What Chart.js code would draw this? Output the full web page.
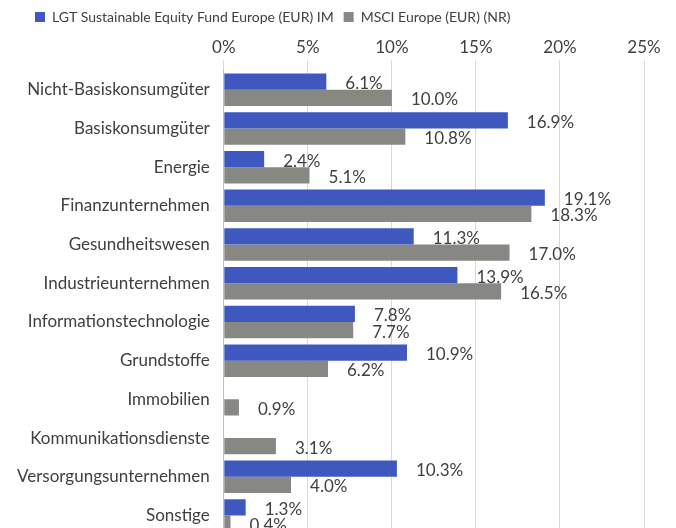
<!DOCTYPE html>
<html>
<head>
<meta charset="utf-8">
<script src="https://cdn.jsdelivr.net/npm/chart.js@4"></script>
<style>
  html, body { margin: 0; padding: 0; background: #fff; overflow: hidden; }
  #wrap { width: 676px; height: 551px; }
</style>
</head>
<body>
<div id="wrap"><canvas id="sectorChart" width="676" height="551"></canvas></div>
<script>
const categories = [
    'Nicht-Basiskonsumgüter', 'Basiskonsumgüter', 'Energie', 'Finanzunternehmen',
    'Gesundheitswesen', 'Industrieunternehmen', 'Informationstechnologie', 'Grundstoffe',
    'Immobilien', 'Kommunikationsdienste', 'Versorgungsunternehmen', 'Sonstige'
];
const fundValues = [6.1, 16.9, 2.4, 19.1, 11.3, 13.9, 7.8, 10.9, null, null, 10.3, 1.3];
const indexValues = [10.0, 10.8, 5.1, 18.3, 17.0, 16.5, 7.7, 6.2, 0.9, 3.1, 4.0, 0.4];
const seriesNames = ['LGT Sustainable Equity Fund Europe (EUR) IM', 'MSCI Europe (EUR) (NR)'];

const fontFamily = 'Lato, "Open Sans", sans-serif';
const textColor = '#404040';

// draws the value labels next to the bar ends
const valueLabels = {
    id: 'valueLabels',
    afterDatasetsDraw(chart) {
        const ctx = chart.ctx;
        ctx.save();
        ctx.font = '17px ' + fontFamily;
        ctx.fillStyle = textColor;
        ctx.textAlign = 'left';
        ctx.textBaseline = 'middle';
        chart.data.datasets.forEach((ds, i) => {
            const meta = chart.getDatasetMeta(i);
            meta.data.forEach((bar, j) => {
                const v = ds.data[j];
                if (v === null || v === undefined) return;
                ctx.fillText(v.toFixed(1) + '%', bar.x + 19, bar.y + 2);
            });
        });
        ctx.restore();
    }
};

// nudge the legend a bit to the right, like the original
const legendShift = {
    id: 'legendShift',
    afterLayout(chart) {
        chart.legend.left += 14;
        chart.legend.right += 14;
    }
};

const ctx = document.getElementById('sectorChart').getContext('2d');
new Chart(ctx, {
    type: 'bar',
    data: {
        labels: categories,
        datasets: [{
            label: seriesNames[0],
            data: fundValues,
            backgroundColor: '#3F58BF',
            categoryPercentage: 0.84,
            barPercentage: 1.0
        }, {
            label: seriesNames[1],
            data: indexValues,
            backgroundColor: '#878783',
            categoryPercentage: 0.84,
            barPercentage: 1.0
        }]
    },
    options: {
        indexAxis: 'y',
        responsive: false,
        animation: false,
        layout: {
            padding: { left: 11, right: 32, top: 0, bottom: 0 }
        },
        plugins: {
            legend: {
                position: 'top',
                align: 'start',
                labels: {
                    boxWidth: 10,
                    boxHeight: 10,
                    padding: 10,
                    color: textColor,
                    font: { family: fontFamily, size: 14 }
                }
            },
            tooltip: { enabled: false }
        },
        scales: {
            x: {
                position: 'top',
                min: 0,
                max: 25,
                ticks: {
                    stepSize: 5,
                    color: textColor,
                    font: { family: fontFamily, size: 17 },
                    callback: v => v + '%'
                },
                grid: { color: '#d9d9d9', tickLength: 10 },
                border: { display: false }
            },
            y: {
                ticks: {
                    color: textColor,
                    padding: 6,
                    font: { family: fontFamily, size: 17 }
                },
                grid: { display: false },
                border: { color: '#bfbfbf' }
            }
        }
    },
    plugins: [valueLabels, legendShift]
});
</script>
</body>
</html>
